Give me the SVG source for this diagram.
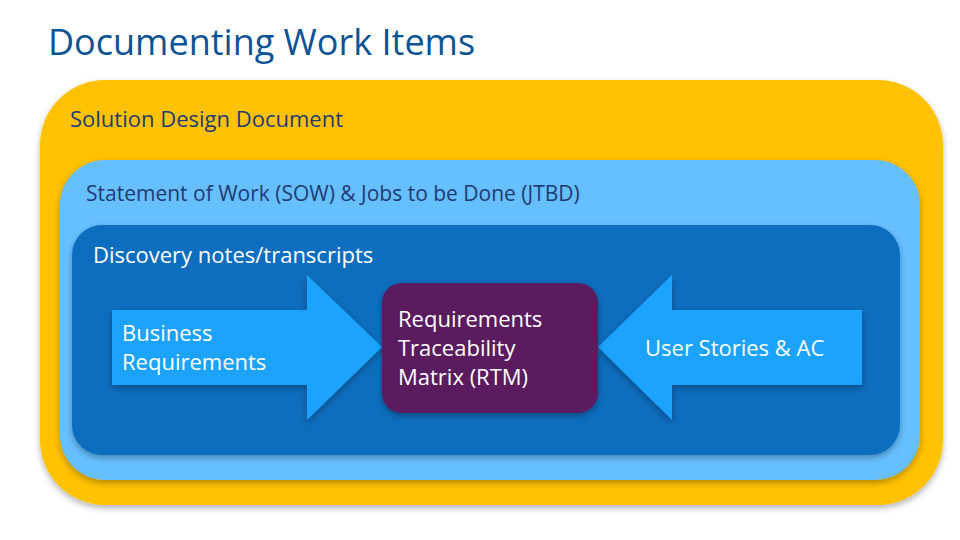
<svg xmlns="http://www.w3.org/2000/svg" width="960" height="540" viewBox="0 0 960 540">
<defs>
<filter id="sh" x="-5%" y="-5%" width="110%" height="115%"><feDropShadow dx="0" dy="3" stdDeviation="3" flood-opacity="0.3"/></filter>
<style>
text{font-family:"Open Sans","Liberation Sans",sans-serif}
.w{fill:#fff;font-size:22px}
.arrow{fill:#1FA3FF;filter:url(#sh)}
</style>
</defs>
<rect width="960" height="540" fill="#fff"/>
<text x="48" y="55" font-size="36" fill="#0B5394">Documenting Work Items</text>
<g id="sdd">
<rect x="40" y="80" width="903" height="425" rx="65" fill="#FFC200" filter="url(#sh)"/>
<text x="70" y="127" font-size="22" fill="#1F3B73">Solution Design Document</text>
</g>
<g id="sow">
<rect x="60" y="160" width="860" height="320" rx="45" fill="#66BFFF" filter="url(#sh)"/>
<text x="86" y="201" font-size="21" fill="#1F3B73">Statement of Work (SOW) &amp; Jobs to be Done (JTBD)</text>
</g>
<g id="discovery">
<rect x="72" y="225" width="828" height="230" rx="30" fill="#0B6DBE" filter="url(#sh)"/>
<text x="93" y="263" class="w">Discovery notes/transcripts</text>
</g>
<g id="connectors">
<g id="business">
<polygon class="arrow" points="112,310 307,310 307,275 382,347 307,420 307,385 112,385"/>
<text class="w" x="122" y="341">Business</text>
<text class="w" x="122" y="370">Requirements</text>
</g>
<g id="stories">
<polygon class="arrow" points="862,310 672,310 672,275 598,347 672,420 672,385 862,385"/>
<text class="w" x="645" y="356">User Stories &amp; AC</text>
</g>
</g>
<g id="rtm">
<rect x="382" y="283" width="216" height="130" rx="20" fill="#5A1B5E" filter="url(#sh)"/>
<text class="w" x="398" y="327">Requirements</text>
<text class="w" x="398" y="356">Traceability</text>
<text class="w" x="398" y="385">Matrix (RTM)</text>
</g>
</svg>
